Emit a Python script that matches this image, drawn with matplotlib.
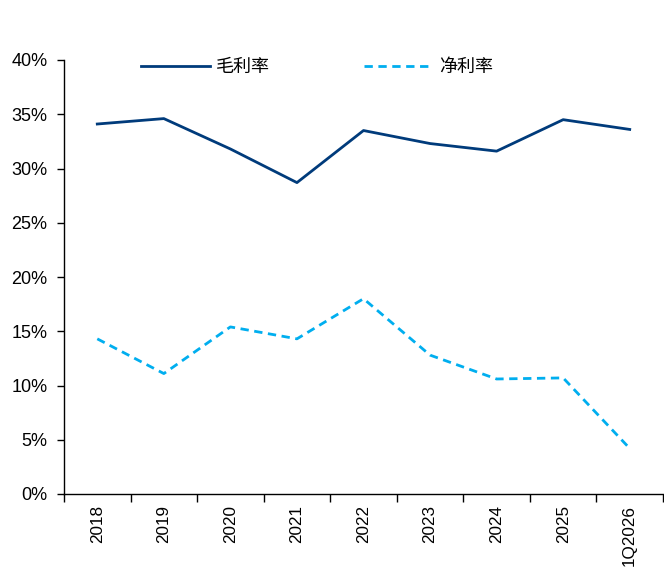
import matplotlib.pyplot as plt
from matplotlib.ticker import FixedLocator, PercentFormatter

plt.switch_backend("Agg")
plt.rcParams["font.family"] = ["Liberation Sans", "Noto Sans CJK SC", "DejaVu Sans"]

# --- 数据 ---
years = ["2018", "2019", "2020", "2021", "2022", "2023", "2024", "2025", "1Q2026"]
gross_margin = [34.1, 34.6, 31.8, 28.7, 33.5, 32.3, 31.6, 34.5, 33.6]
net_margin = [14.3, 11.1, 15.4, 14.3, 18.0, 12.8, 10.6, 10.7, 4.2]

GROSS_COLOR = "#003B7B"
NET_COLOR = "#00AEEF"

fig = plt.figure(figsize=(6.64, 5.68), dpi=100)
ax = fig.add_axes([64 / 664, 74 / 568, 599 / 664, 434 / 568])

x = list(range(len(years)))
ax.plot(x, gross_margin, color=GROSS_COLOR, lw=2.0, label="毛利率")
ax.plot(x, net_margin, color=NET_COLOR, lw=2.0, ls=(0, (3.0, 2.0)), label="净利率")

ax.set_xlim(-0.5, len(years) - 0.5)
ax.set_ylim(0, 40)
ax.set_yticks(range(0, 41, 5))
ax.yaxis.set_major_formatter(PercentFormatter(decimals=0))

# 类目标签居中，刻度线放在类目边界
ax.set_xticks(x)
ax.set_xticklabels(years, rotation=90)
ax.xaxis.set_minor_locator(FixedLocator([i - 0.5 for i in range(len(years) + 1)]))
ax.tick_params(axis="x", which="major", length=0, pad=8, labelsize=12.3)
ax.tick_params(axis="x", which="minor", length=6, width=1, direction="out")
ax.tick_params(axis="y", length=5, width=1, labelsize=13, pad=7)

for s in ["top", "right"]:
    ax.spines[s].set_visible(False)
for s in ["left", "bottom"]:
    ax.spines[s].set_linewidth(1)
    ax.spines[s].set_color("black")

ax.legend(loc="center left", bbox_to_anchor=(141 / 664, 501 / 568),
          bbox_transform=fig.transFigure, ncol=2, frameon=False,
          borderpad=0, borderaxespad=0, handlelength=3.8,
          handletextpad=0.35, columnspacing=5.2,
          prop={"family": ["Noto Sans CJK SC"], "size": 13})

fig.savefig("out.png", dpi=100)
